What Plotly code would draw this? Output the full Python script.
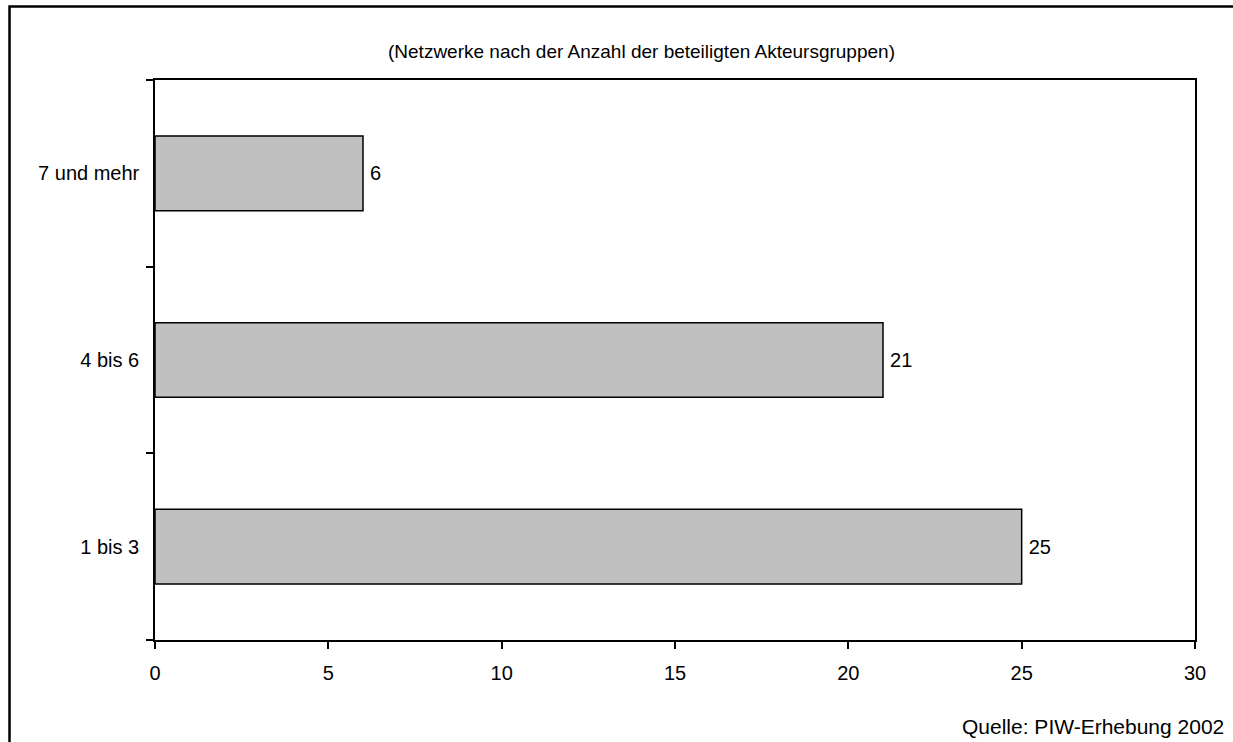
import plotly.graph_objects as go

# Netzwerke nach Anzahl der beteiligten Akteursgruppen
groups = ["1 bis 3", "4 bis 6", "7 und mehr"]
counts = [25, 21, 6]
x_ticks = [0, 5, 10, 15, 20, 25, 30]

FONT = "Liberation Sans, Arial, sans-serif"

fig = go.Figure(
    go.Bar(
        y=groups,
        x=counts,
        orientation="h",
        width=0.4,
        marker=dict(color="#C0C0C0", line=dict(color="black", width=1.5)),
        text=[str(v) for v in counts],
        texttemplate="\u2009%{text}",
        textposition="outside",
        textfont=dict(family=FONT, size=20, color="black"),
        cliponaxis=False,
        hoverinfo="skip",
    )
)

fig.update_layout(
    width=1233,
    height=742,
    margin=dict(l=155, r=38, t=80, b=102, autoexpand=False),
    paper_bgcolor="white",
    plot_bgcolor="white",
    showlegend=False,
    font=dict(family=FONT, size=20, color="black"),
    xaxis=dict(
        range=[0, 30],
        tickvals=x_ticks,
        ticktext=[str(v) for v in x_ticks],
        showgrid=False,
        zeroline=False,
        showline=True,
        linecolor="black",
        linewidth=1.5,
        mirror=True,
        ticks="outside",
        ticklen=7,
        tickwidth=1.5,
        tickcolor="black",
        tickfont=dict(family=FONT, size=20),
        ticklabelstandoff=7,
    ),
    yaxis=dict(
        type="category",
        categoryorder="array",
        categoryarray=groups,
        tickson="boundaries",
        showgrid=False,
        zeroline=False,
        showline=True,
        linecolor="black",
        linewidth=1.5,
        mirror=True,
        ticks="outside",
        ticklen=7,
        tickwidth=1.5,
        tickcolor="black",
        tickfont=dict(family=FONT, size=20),
        ticklabelstandoff=10,
    ),
    annotations=[
        dict(
            text="(Netzwerke nach der Anzahl der beteiligten Akteursgruppen)",
            xref="paper", yref="paper",
            x=0.4678, y=1.05,
            xanchor="center", yanchor="middle",
            showarrow=False,
            font=dict(family=FONT, size=19),
        ),
        dict(
            text="Quelle: PIW-Erhebung 2002",
            xref="paper", yref="paper",
            x=1.0295, y=-0.155,
            xanchor="right", yanchor="middle",
            showarrow=False,
            font=dict(family=FONT, size=21),
        ),
    ],
    shapes=[
        # outer frame: top and left edges
        dict(
            type="path",
            xref="paper", yref="paper",
            path="M -0.1399,-0.25 L -0.1399,1.1313 L 1.05,1.1313",
            line=dict(color="black", width=2.5),
        ),
    ],
)

fig.write_html("out.html")
